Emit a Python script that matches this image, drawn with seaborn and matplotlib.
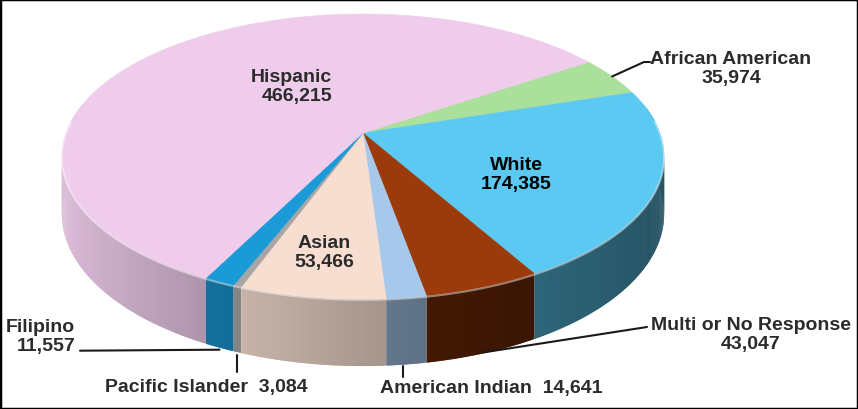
import numpy as np
import matplotlib
matplotlib.use("Agg")
import matplotlib.pyplot as plt
import seaborn as sns
from matplotlib.colors import to_rgb
from matplotlib.patches import Rectangle

# data, clockwise from the top right
categories = ["African American", "White", "Multi or No Response", "American Indian",
              "Asian", "Pacific Islander", "Filipino", "Hispanic"]
counts = [35974, 174385, 43047, 14641, 53466, 3084, 11557, 466215]
top_colors = ["#abe09c", "#5bc9f1", "#9b3a0a", "#a6c8ea",
              "#f7ded1", "#a6a6a6", "#1a9bd7", "#efccec"]
wall_shade = [0.6, 0.42, 0.4, 0.58, 0.74, 0.8, 0.72, 0.84]

sns.set_theme(style="white")
plt.rcParams["font.family"] = ["Liberation Sans", "DejaVu Sans"]

# 3d pie geometry (pixels)
CX, CY = 363, 134
RX, RY = 297, 138.6
K = 0.165          # perspective
DEPTH = 56
START = 34
G = 0.45           # wall gradient


def proj(theta, drop=0.0):
    t = np.radians(theta)
    f = 1 + K * np.sin(t)
    return CX + RX * np.cos(t) / f, CY - RY * np.sin(t) / f + drop / f


total = sum(counts)
spans = np.array(counts) / total * 360
ends = START - np.cumsum(spans)
starts = ends + spans

fig = plt.figure(figsize=(8.58, 4.10), dpi=100)
ax = fig.add_axes([0, 0, 1, 1])
ax.set_xlim(0, 858)
ax.set_ylim(410, 0)
ax.axis("off")

# side walls, drawn as thin overlapping strips
strips = []
for i in range(len(counts)):
    a0, a1 = starts[i], ends[i]
    n = max(2, int(spans[i] / 0.5))
    th = np.linspace(a0, a1, n + 1)
    cmid = np.cos(np.radians((a0 + a1) / 2))
    if i == len(counts) - 1:
        cmid = -0.75
    base = np.array(to_rgb(top_colors[i])) * wall_shade[i]
    for j, (t0, t1) in enumerate(zip(th[:-1], th[1:])):
        m = np.radians((t0 + t1) / 2)
        if np.sin(m) > 0.2:
            continue
        t1e = t1 - 0.35 if j < n - 1 else t1   # overlap into the next strip
        x0, y0 = proj(t0)
        x1, y1 = proj(t1e)
        x2, y2 = proj(t1e, DEPTH)
        x3, y3 = proj(t0, DEPTH)
        c = np.clip(base * (1 - G * (np.cos(m) - cmid)), 0, 1)
        strips.append((np.sin(m), [x0, x1, x2, x3], [y0, y1, y2, y3], c))
strips.sort(key=lambda s: -s[0])
for _, xs, ys, c in strips:
    ax.fill(xs, ys, color=c, lw=0)

# top face
for i in range(len(counts)):
    th = np.linspace(starts[i], ends[i], max(3, int(spans[i] / 0.5)))
    xs, ys = proj(th)
    ax.fill(np.r_[CX, xs], np.r_[CY, ys], color=top_colors[i], ec=top_colors[i], lw=0.4)

# rim highlight on the front edge
rim = np.linspace(-185, 5, 200)
rx, ry = proj(rim)
ax.plot(rx, ry + 1, color="white", alpha=0.45, lw=1.4)

txt = dict(fontsize=14, fontweight="bold", color="#2b2b2b", linespacing=1.15)

# labels inside the pie
ax.text(332, 87, "Hispanic\n466,215", ha="right", va="center", multialignment="right", **txt)
ax.text(516, 175, "White\n174,385", ha="center", va="center",
        **{**txt, "color": "black"})
ax.text(324, 253, "Asian\n53,466", ha="center", va="center", **txt)


def mid_angle(name):
    i = categories.index(name)
    return (starts[i] + ends[i]) / 2


line = dict(color="#1a1a1a", lw=1.5)

# African American
ax_, ay_ = proj(mid_angle("African American"))
ax.plot([ax_, 644, 650], [ay_, 63, 63], **line)
ax.text(731, 69, "African American\n35,974", ha="center", va="center", **txt)

# Multi or No Response
mx, my = proj(mid_angle("Multi or No Response"), DEPTH)
ax.plot([mx, 647], [my - 1, 328], **line)
ax.text(751, 335, "Multi or No Response\n43,047", ha="center", va="center", **txt)

# American Indian
ix, iy = proj(mid_angle("American Indian"), DEPTH)
ax.plot([ix - 3, ix - 3], [iy + 2, 378], **line)
ax.text(380, 389, "American Indian  14,641", ha="left", va="center", **txt)

# Pacific Islander
px, py = proj(mid_angle("Pacific Islander"), DEPTH)
ax.plot([px, px], [py + 3, 373], **line)
ax.text(105, 388, "Pacific Islander  3,084", ha="left", va="center", **txt)

# Filipino
fx, fy = proj(mid_angle("Filipino"), DEPTH)
ax.plot([fx, 80], [fy + 2, fy + 3], **line)
ax.text(75, 337, "Filipino\n11,557", ha="right", va="center", multialignment="right", **txt)

fig.patches.append(Rectangle((0, 0), 1, 1, transform=fig.transFigure, fill=False,
                             ec="black", lw=2.5, zorder=10))

fig.savefig("out.png", dpi=100)
